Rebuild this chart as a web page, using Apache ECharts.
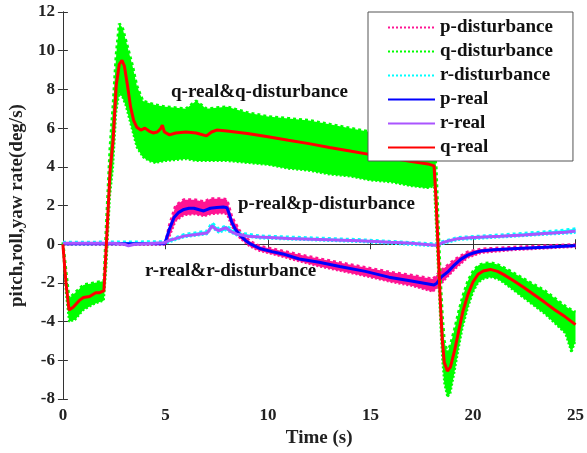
<!DOCTYPE html>
<html>
<head>
<meta charset="utf-8">
<script src="https://cdn.jsdelivr.net/npm/echarts@6/dist/echarts.min.js"></script>
<style>
  html, body { margin: 0; padding: 0; background: #fff; }
  #chart { width: 587px; height: 453px; }
</style>
</head>
<body>
<div id="chart"></div>
<script>
// Axis ranges and ticks
const xTicks = [0, 5, 10, 15, 20, 25];
const yTicks = [-8, -6, -4, -2, 0, 2, 4, 6, 8, 10, 12];

// q (pitch rate) – filtered signal
const qTime = [0, 0.15, 0.3, 0.5, 0.8, 1.0, 1.3, 1.6, 1.8, 2.0, 2.12, 2.3, 2.45, 2.6, 2.75, 2.88, 3.0, 3.15, 3.3, 3.45, 3.6, 3.8, 4.0, 4.2, 4.4, 4.6, 4.75, 4.85, 4.95, 5.2, 5.5, 6.0, 6.5, 7.0, 7.25, 7.5, 8.0, 9.0, 10.0, 11.0, 12.0, 13.0, 14.0, 15.0, 16.0, 17.0, 17.8, 18.1, 18.2, 18.3, 18.4, 18.5, 18.6, 18.75, 18.9, 19.1, 19.3, 19.5, 19.75, 20.0, 20.25, 20.5, 20.85, 21.2, 21.5, 22.0, 22.5, 23.0, 23.5, 24.0, 24.5, 25.0];
const qReal = [0, -2.0, -3.4, -3.25, -2.9, -2.75, -2.7, -2.5, -2.5, -2.4, 0, 3.8, 5.4, 8.2, 9.3, 9.5, 9.2, 8.2, 7.1, 6.4, 6.05, 5.9, 6.0, 5.85, 5.75, 5.8, 5.95, 6.15, 5.8, 5.65, 5.75, 5.8, 5.75, 5.6, 5.8, 5.9, 5.85, 5.72, 5.55, 5.37, 5.2, 5.0, 4.82, 4.63, 4.45, 4.27, 4.15, 4.05, 2.3, -0.2, -2.8, -4.9, -6.1, -6.55, -6.35, -5.5, -4.5, -3.5, -2.6, -1.95, -1.55, -1.38, -1.3, -1.4, -1.57, -1.9, -2.25, -2.62, -3.0, -3.4, -3.75, -4.15];

// q with disturbance – lower / upper envelope of the noisy trace
const qDistTime = [0, 0.15, 0.3, 0.6, 1.0, 1.5, 2.0, 2.12, 2.3, 2.45, 2.6, 2.75, 2.9, 3.05, 3.2, 3.4, 3.6, 3.9, 4.2, 4.5, 5.0, 6.0, 6.5, 7.0, 8.0, 9.0, 10.0, 11.0, 12.0, 13.0, 14.0, 15.0, 16.0, 17.0, 17.8, 18.1, 18.2, 18.3, 18.4, 18.5, 18.6, 18.75, 18.9, 19.1, 19.3, 19.5, 19.75, 20.0, 20.25, 20.5, 20.85, 21.2, 21.5, 22.0, 22.5, 23.0, 23.5, 24.0, 24.5, 24.8, 25.0];
const qDistLow = [-0.2, -2.6, -4.0, -3.9, -3.4, -3.1, -2.9, -1.2, 2.5, 4.0, 6.8, 7.8, 7.6, 7.2, 6.6, 5.8, 5.0, 4.5, 4.3, 4.2, 4.3, 4.4, 4.3, 4.3, 4.3, 4.2, 4.1, 3.9, 3.8, 3.6, 3.5, 3.3, 3.2, 3.0, 2.9, 3.0, 0.8, -1.5, -4.0, -6.0, -7.2, -7.9, -7.7, -6.6, -5.4, -4.3, -3.3, -2.5, -2.0, -1.8, -1.7, -1.8, -2.0, -2.4, -2.8, -3.2, -3.6, -4.1, -4.6, -5.6, -5.0];
const qDistHigh = [0.1, -1.4, -2.8, -2.5, -2.1, -2.0, -1.9, 1.0, 5.0, 7.2, 9.8, 11.4, 11.2, 10.6, 10.0, 9.2, 8.2, 7.4, 7.3, 7.2, 7.1, 7.0, 7.4, 7.0, 7.1, 6.8, 6.6, 6.5, 6.4, 6.2, 6.0, 5.8, 5.6, 5.3, 5.1, 4.9, 4.0, 1.2, -1.6, -3.6, -5.0, -5.6, -5.2, -4.4, -3.5, -2.7, -1.9, -1.4, -1.1, -1.0, -0.95, -1.05, -1.2, -1.5, -1.8, -2.1, -2.4, -2.8, -3.2, -3.4, -3.5];

// p (roll rate) – filtered signal
const pTime = [0, 4.95, 5.02, 5.2, 5.42, 5.65, 5.9, 6.15, 6.39, 6.65, 6.87, 7.05, 7.19, 7.5, 7.83, 8.0, 8.1, 8.24, 8.4, 8.64, 8.9, 9.12, 9.6, 10.2, 10.73, 11.53, 12.5, 13.5, 14.75, 15.9, 17.0, 18.1, 18.25, 18.45, 18.8, 19.1, 19.4, 19.74, 20.05, 20.38, 21.0, 22.15, 23.5, 24.9, 25.0];
const pReal = [0.02, 0.02, 0.2, 0.8, 1.38, 1.65, 1.8, 1.86, 1.86, 1.78, 1.72, 1.8, 1.86, 1.9, 1.92, 1.89, 1.6, 1.13, 0.8, 0.46, 0.2, 0.03, -0.22, -0.38, -0.5, -0.76, -0.93, -1.15, -1.4, -1.7, -1.9, -2.1, -2.0, -1.7, -1.4, -1.06, -0.78, -0.56, -0.44, -0.35, -0.28, -0.22, -0.15, -0.08, -0.07];

// p with disturbance – lower / upper envelope
const pDistTime = [0, 5.0, 5.2, 5.5, 5.9, 6.4, 6.9, 7.2, 7.8, 8.0, 8.24, 8.64, 9.12, 9.6, 10.7, 12.5, 14.75, 16.0, 17.0, 18.05, 18.4, 19.1, 19.74, 20.4, 22.0, 25.0];
const pDistLow = [-0.03, -0.03, 0.4, 1.2, 1.5, 1.55, 1.45, 1.55, 1.6, 1.55, 0.9, 0.3, -0.12, -0.35, -0.65, -1.15, -1.65, -1.95, -2.15, -2.45, -2.1, -1.3, -0.7, -0.45, -0.3, -0.14];
const pDistHigh = [0.03, 0.05, 1.0, 2.0, 2.3, 2.3, 2.2, 2.35, 2.35, 2.3, 1.4, 0.65, 0.15, -0.1, -0.35, -0.75, -1.2, -1.45, -1.6, -1.8, -1.4, -0.8, -0.4, -0.25, -0.15, -0.02];

// r (yaw rate) – filtered signal
const rTime = [0, 2.5, 3.0, 3.2, 3.5, 4.95, 5.2, 5.9, 6.5, 7.03, 7.15, 7.27, 7.45, 7.6, 7.8, 7.96, 8.2, 8.48, 9.0, 9.6, 11.0, 12.5, 14.43, 16.0, 17.0, 18.13, 18.3, 18.53, 18.9, 19.26, 19.8, 20.5, 21.33, 22.5, 23.5, 24.5, 25.0];
const rReal = [0.05, 0.05, 0.0, -0.08, 0.0, 0.08, 0.2, 0.42, 0.5, 0.58, 0.75, 0.95, 0.78, 0.7, 0.8, 0.85, 0.65, 0.52, 0.42, 0.37, 0.3, 0.25, 0.18, 0.1, 0.05, -0.05, -0.04, 0.09, 0.2, 0.29, 0.34, 0.38, 0.42, 0.48, 0.55, 0.62, 0.68];

// r with disturbance – lower / upper envelope
const rDistTime = [0, 5.0, 5.9, 7.03, 7.27, 7.6, 7.96, 8.48, 9.6, 14.43, 18.13, 19.26, 21.33, 24.0, 25.0];
const rDistLow = [-0.02, 0.03, 0.36, 0.52, 0.85, 0.6, 0.72, 0.45, 0.3, 0.12, -0.1, 0.22, 0.35, 0.52, 0.58];
const rDistHigh = [0.1, 0.13, 0.5, 0.68, 1.1, 0.8, 0.95, 0.6, 0.43, 0.24, 0.02, 0.35, 0.48, 0.68, 0.8];

const FONT = '"Liberation Serif", "Times New Roman", serif';
const zip = (t, v) => t.map((x, i) => [x, v[i]]);

// A noisy trace is drawn as a filled polygon between its lower and upper
// envelopes (placed with the axis scales), edged by two dotted lines.
function band(name, color, t, lo, hi) {
  return [
    {
      type: 'custom',
      silent: true,
      clip: true,
      data: [[t[0], lo[0]]],
      renderItem: function (params, api) {
        const pts = [];
        for (let i = 0; i < t.length; i++) pts.push(api.coord([t[i], hi[i]]));
        for (let i = t.length - 1; i >= 0; i--) pts.push(api.coord([t[i], lo[i]]));
        return { type: 'polygon', shape: { points: pts }, style: { fill: color, stroke: null } };
      }
    },
    {
      name: name + ' lower',
      type: 'line',
      symbol: 'none',
      silent: true,
      lineStyle: { color: color, width: 2, type: 'dotted' },
      data: zip(t, lo)
    },
    {
      name: name,
      type: 'line',
      symbol: 'none',
      silent: true,
      itemStyle: { color: color },
      lineStyle: { color: color, width: 3, type: 'dotted' },
      data: zip(t, hi)
    }
  ];
}

function solid(name, color, t, v, width) {
  return {
    name: name,
    type: 'line',
    symbol: 'none',
    itemStyle: { color: color },
    lineStyle: { color: color, width: width },
    data: zip(t, v)
  };
}

const axisLineStyle = { color: '#333', width: 1 };
const tickLabel = { fontFamily: FONT, fontWeight: 'bold', fontSize: 17, color: '#222' };

const chart = echarts.init(document.getElementById('chart'), null, { renderer: 'canvas' });

chart.setOption({
  animation: false,
  backgroundColor: '#fff',
  grid: { left: 61, right: 8, top: 12, bottom: 46, containLabel: false },
  xAxis: [
    {
      type: 'value', min: xTicks[0], max: xTicks[xTicks.length - 1], interval: 5,
      position: 'bottom',
      axisLine: { show: true, lineStyle: axisLineStyle },
      axisTick: { show: true, inside: false, length: 5, lineStyle: axisLineStyle },
      splitLine: { show: false },
      axisLabel: Object.assign({ margin: 8 }, tickLabel),
      name: 'Time (s)', nameLocation: 'middle', nameGap: 26,
      nameTextStyle: { fontFamily: FONT, fontWeight: 'bold', fontSize: 19, color: '#222' }
    },
    {
      type: 'value', min: xTicks[0], max: xTicks[xTicks.length - 1], interval: 5,
      position: 'top',
      axisLine: { show: true, lineStyle: axisLineStyle },
      axisTick: { show: true, inside: false, length: 5, lineStyle: axisLineStyle },
      splitLine: { show: false },
      axisLabel: { show: false }
    }
  ],
  yAxis: [
    {
      type: 'value', min: yTicks[0], max: yTicks[yTicks.length - 1], interval: 2,
      position: 'left',
      axisLine: { show: true, lineStyle: axisLineStyle },
      axisTick: { show: true, inside: false, length: 5, lineStyle: axisLineStyle },
      splitLine: { show: false },
      axisLabel: Object.assign({ margin: 8 }, tickLabel),
      name: 'pitch,roll,yaw rate(deg/s)', nameLocation: 'middle', nameGap: 31,
      nameTextStyle: { fontFamily: FONT, fontWeight: 'bold', fontSize: 19, color: '#222' }
    },
    {
      type: 'value', min: yTicks[0], max: yTicks[yTicks.length - 1], interval: 2,
      position: 'right',
      axisLine: { show: true, lineStyle: axisLineStyle },
      axisTick: { show: true, inside: false, length: 5, lineStyle: axisLineStyle },
      splitLine: { show: false },
      axisLabel: { show: false }
    }
  ],
  legend: {
    data: ['p-disturbance', 'q-disturbance', 'r-disturbance', 'p-real', 'r-real', 'q-real'],
    orient: 'vertical',
    left: 368,
    top: 12,
    backgroundColor: '#fff',
    borderColor: '#555',
    borderWidth: 1,
    borderRadius: 0,
    padding: [6, 20, 4, 19],
    itemWidth: 47,
    itemHeight: 2,
    itemGap: 5,
    selectedMode: false,
    itemStyle: { opacity: 0 },
    textStyle: { fontFamily: FONT, fontWeight: 'bold', fontSize: 19, color: '#111', lineHeight: 19 }
  },
  graphic: [
    { type: 'text', left: 171, top: 83, style: { text: 'q-real&q-disturbance', font: 'bold 19px ' + FONT, fill: '#111' } },
    { type: 'text', left: 238, top: 195, style: { text: 'p-real&p-disturbance', font: 'bold 19px ' + FONT, fill: '#111' } },
    { type: 'text', left: 145, top: 262, style: { text: 'r-real&r-disturbance', font: 'bold 19px ' + FONT, fill: '#111' } }
  ],
  series: [
    ...band('p-disturbance', '#ff1493', pDistTime, pDistLow, pDistHigh),
    ...band('q-disturbance', '#00ff00', qDistTime, qDistLow, qDistHigh),
    ...band('r-disturbance', '#00ffff', rDistTime, rDistLow, rDistHigh),
    solid('p-real', '#0000ff', pTime, pReal, 3),
    solid('r-real', '#aa55ff', rTime, rReal, 3),
    solid('q-real', '#ff0000', qTime, qReal, 3)
  ]
});
</script>
</body>
</html>
